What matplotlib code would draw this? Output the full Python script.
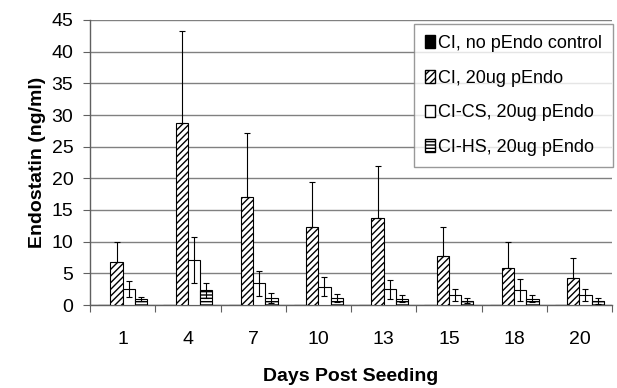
import numpy as np
import matplotlib
matplotlib.use("Agg")
import matplotlib.pyplot as plt
from matplotlib.patches import Patch

plt.rcParams['font.family'] = ['Liberation Sans', 'DejaVu Sans']
plt.rcParams['hatch.linewidth'] = 1.0

days = ["1", "4", "7", "10", "13", "15", "18", "20"]
series = ["CI, no pEndo control", "CI, 20ug pEndo", "CI-CS, 20ug pEndo", "CI-HS, 20ug pEndo"]
control = [0, 0, 0, 0, 0, 0, 0, 0]
ci_pendo = [6.8, 28.8, 17.1, 12.3, 13.7, 7.7, 5.9, 4.3]
ci_pendo_err = [3.2, 14.5, 10.0, 7.1, 8.2, 4.6, 4.1, 3.2]
cs_pendo = [2.5, 7.1, 3.4, 2.9, 2.5, 1.6, 2.4, 1.6]
cs_pendo_err = [1.3, 3.6, 2.0, 1.5, 1.5, 1.0, 1.7, 0.9]
hs_pendo = [0.9, 2.3, 1.1, 1.1, 1.0, 0.7, 1.0, 0.6]
hs_pendo_err = [0.3, 1.2, 0.8, 0.7, 0.6, 0.35, 0.6, 0.5]

fig = plt.figure(figsize=(6.17, 3.88), dpi=100)
ax = fig.add_axes([90 / 617, 1 - 305 / 388, 522 / 617, 285 / 388])

x = np.arange(len(days))
w = 0.187
ekw = dict(ecolor='black', elinewidth=0.8, capsize=2.5, capthick=0.8)

ax.bar(x - 1.5 * w, control, w, color='black', edgecolor='black', linewidth=0.8, zorder=3)
ax.bar(x - 0.5 * w, ci_pendo, w, color='white', edgecolor='black', hatch='/////', linewidth=0.8, zorder=3)
ax.errorbar(x - 0.5 * w, ci_pendo, yerr=[np.zeros(len(days)), ci_pendo_err], fmt='none', zorder=4, **ekw)
ax.bar(x + 0.5 * w, cs_pendo, w, color='white', edgecolor='black', linewidth=0.8, zorder=3)
ax.errorbar(x + 0.5 * w, cs_pendo, yerr=cs_pendo_err, fmt='none', zorder=4, **ekw)
ax.bar(x + 1.5 * w, hs_pendo, w, color='white', edgecolor='black', hatch='-----', linewidth=0.8, zorder=3)
ax.errorbar(x + 1.5 * w, hs_pendo, yerr=hs_pendo_err, fmt='none', zorder=4, **ekw)

ax.set_xlim(-0.5, len(days) - 0.5)
ax.set_ylim(0, 45)
ax.set_yticks(np.arange(0, 46, 5))
ax.yaxis.grid(True, color='#808080', linewidth=1.0, zorder=0)
ax.set_axisbelow(True)
ax.set_xticks(x)
ax.set_xticklabels(days)
ax.set_xticks(np.arange(-0.5, len(days), 1.0), minor=True)
ax.tick_params(axis='x', which='major', length=0, labelsize=14, pad=19)
ax.tick_params(axis='x', which='minor', length=5, direction='out', width=0.8, color='#606060')
ax.tick_params(axis='y', length=5, direction='out', width=0.8, labelsize=14, pad=7, color='#606060')
for s in ['top', 'right']:
    ax.spines[s].set_visible(False)
for s in ['left', 'bottom']:
    ax.spines[s].set_color('#606060')
    ax.spines[s].set_linewidth(1.0)

ax.set_ylabel("Endostatin (ng/ml)", fontsize=14, fontweight='bold', labelpad=4)
ax.set_xlabel("Days Post Seeding", fontsize=14, fontweight='bold', labelpad=14)

handles = [
    Patch(facecolor='black', edgecolor='black', label=series[0]),
    Patch(facecolor='white', edgecolor='black', hatch='/////', label=series[1]),
    Patch(facecolor='white', edgecolor='black', label=series[2]),
    Patch(facecolor='white', edgecolor='black', hatch='-----', label=series[3]),
]
leg = fig.legend(handles=handles, loc='upper right', bbox_to_anchor=(613 / 617, 1 - 24 / 388),
                 bbox_transform=fig.transFigure,
                 fontsize=13, frameon=True, fancybox=False, handlelength=0.55,
                 handleheight=0.7, handletextpad=0.2, labelspacing=0.98,
                 borderpad=0.6, borderaxespad=0.0)
leg.get_frame().set_edgecolor('#808080')
leg.get_frame().set_linewidth(1.0)
leg.set_zorder(10)

fig.savefig("out.png", dpi=100)
